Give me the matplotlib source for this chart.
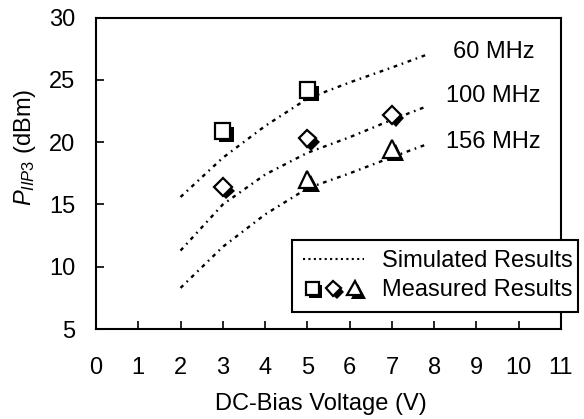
import matplotlib
matplotlib.use("Agg")
import matplotlib.pyplot as plt
import matplotlib.patheffects as pe
from matplotlib.lines import Line2D
from matplotlib.legend_handler import HandlerTuple

plt.rcParams['font.family'] = ['Liberation Sans', 'DejaVu Sans']
plt.rcParams['mathtext.fontset'] = 'custom'
plt.rcParams['mathtext.rm'] = 'Liberation Sans'
plt.rcParams['mathtext.it'] = 'Liberation Sans:italic'
FS = 17

# Simulated curves
sim_x = [2, 3, 4, 5, 6, 7, 7.8]
sim_60 = [15.6, 18.75, 21.3, 23.5, 24.8, 26.0, 27.0]
sim_100 = [11.3, 15.0, 17.4, 19.15, 20.4, 21.8, 22.85]
sim_156 = [8.3, 11.6, 14.2, 16.3, 17.5, 18.8, 19.8]

# Measured
sq_x = [3, 5]
sq_y = [20.9, 24.2]
dm_x = [3, 5, 7]
dm_y = [16.4, 20.3, 22.2]
tr_x = [5, 7]
tr_y = [17.0, 19.45]

freq_labels = ['60 MHz', '100 MHz', '156 MHz']
label_x = 9.4
label_y = [26.74, 23.25, 19.51]

fig = plt.figure(figsize=(5.84, 4.19), dpi=100)
ax = fig.add_axes([96/584, 1-329/419, 465/584, 311.3/419])

sim_style = dict(color='black', lw=1.7, linestyle=(0, (1.6, 2.0, 0.7, 2.0)))
for ys in (sim_60, sim_100, sim_156):
    ax.plot(sim_x, ys, **sim_style)

shadow = [pe.SimplePatchShadow(offset=(2.6, -2.6), shadow_rgbFace='black', alpha=1.0), pe.Normal()]
mk = dict(ls='none', mfc='white', mec='black', mew=1.6, zorder=4)
h_sq, = ax.plot(sq_x, sq_y, marker='s', ms=11, path_effects=shadow, **mk)
h_dm, = ax.plot(dm_x, dm_y, marker='D', ms=9, path_effects=shadow, **mk)
h_tr, = ax.plot(tr_x, tr_y, marker='^', ms=12.5, path_effects=shadow, **mk)

for t, y in zip(freq_labels, label_y):
    ax.text(label_x, y, t, ha='center', va='baseline', fontsize=FS)

ax.set_xlim(0, 11)
ax.set_ylim(5, 30)
ax.set_xticks(range(0, 12))
ax.set_yticks(range(5, 31, 5))
ax.tick_params(axis='both', direction='in', length=5.5, width=1.2, labelsize=FS)
ax.tick_params(axis='x', pad=20)
ax.tick_params(axis='y', pad=15)
for s in ax.spines.values():
    s.set_linewidth(1.5)

ax.set_xlabel('DC-Bias Voltage (V)', fontsize=FS)
ax.xaxis.set_label_coords(0.484, -0.205)
ax.set_ylabel(r'$P_{IIP3}$ (dBm)', fontsize=FS)
ax.yaxis.set_label_coords(-0.125, 0.582)

leg_line = Line2D([], [], color='black', lw=1.5, linestyle=(0, (1.0, 1.6)))
leg = ax.legend([leg_line, (h_sq, h_dm, h_tr)], ['Simulated Results', 'Measured Results'],
                handler_map={tuple: HandlerTuple(ndivide=None, pad=0.1)},
                loc='lower left', bbox_to_anchor=(0.4215, 0.0547, 0.6155, 0.228),
                mode='expand', borderaxespad=0, fontsize=FS, handlelength=2.6,
                handletextpad=0.75, labelspacing=0.3, borderpad=0.45,
                fancybox=False, framealpha=1, edgecolor='black', markerscale=0.85)
leg.get_frame().set_linewidth(1.5)

fig.savefig('out.png', dpi=100)
